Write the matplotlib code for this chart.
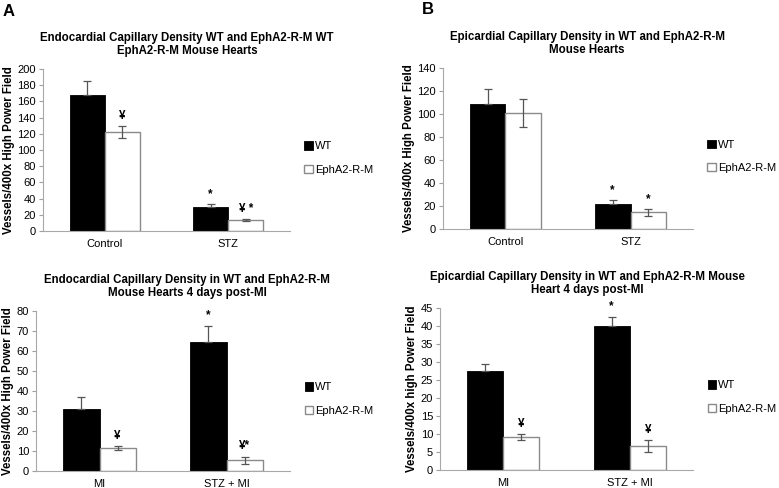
import numpy as np
from matplotlib import pyplot as plt

plt.rcParams['font.family'] = ['Liberation Sans', 'DejaVu Sans']

# data
groups_top = ['Control', 'STZ']
groups_bottom = ['MI', 'STZ + MI']

endo_wt = [168, 29.5]
endo_wt_err = [17, 3.5]
endo_ko = [122, 13.5]
endo_ko_err = [7.5, 1.5]
endo_marks_wt = ['', '*']
endo_marks_ko = ['\u00a5', '\u00a5 *']

epi_wt = [109, 21.5]
epi_wt_err = [12.5, 3.5]
epi_ko = [101, 14.5]
epi_ko_err = [12, 2.8]
epi_marks_wt = ['', '*']
epi_marks_ko = ['', '*']

endo_mi_wt = [31.2, 64.6]
endo_mi_wt_err = [6, 8]
endo_mi_ko = [11.5, 5.4]
endo_mi_ko_err = [0.8, 1.8]
endo_mi_marks_wt = ['', '*']
endo_mi_marks_ko = ['\u00a5', '\u00a5*']

epi_mi_wt = [27.4, 39.9]
epi_mi_wt_err = [2, 2.7]
epi_mi_ko = [9.1, 6.6]
epi_mi_ko_err = [0.8, 1.7]
epi_mi_marks_wt = ['', '*']
epi_mi_marks_ko = ['\u00a5', '\u00a5']

W, H = 779, 488
fig = plt.figure(figsize=(W / 100, H / 100), dpi=100)


def make_axes(x0, x1, ytop, ybot):
    return fig.add_axes([x0 / W, 1 - ybot / H, (x1 - x0) / W, (ybot - ytop) / H])


def panel(ax, cats, wt, wt_err, ko, ko_err, marks_wt, marks_ko, ymax, ystep,
          title, ylabel, title_x):
    x = np.arange(len(cats))
    w = 0.285
    ax.bar(x - w / 2, wt, w, color='black', edgecolor='black', linewidth=0.6,
           label='WT', zorder=2)
    ax.bar(x + w / 2, ko, w, color='white', edgecolor='#8a8a8a', linewidth=1.0,
           label='EphA2-R-M', zorder=2)
    ax.errorbar(x - w / 2, wt, yerr=[np.zeros(len(wt)), wt_err], fmt='none',
                ecolor='#555555', elinewidth=0.9, capsize=3, capthick=0.9, zorder=3)
    ax.errorbar(x + w / 2, ko, yerr=ko_err, fmt='none',
                ecolor='#555555', elinewidth=0.9, capsize=3, capthick=0.9, zorder=3)
    for i in range(len(cats)):
        if marks_wt[i]:
            ax.annotate(marks_wt[i], (x[i] - w / 2, wt[i] + wt_err[i]),
                        xytext=(0, 3), textcoords='offset points',
                        ha='center', va='bottom', fontsize=8.5, fontweight='bold')
        if marks_ko[i]:
            ax.annotate(marks_ko[i], (x[i] + w / 2, ko[i] + ko_err[i]),
                        xytext=(0, 3), textcoords='offset points',
                        ha='center', va='bottom', fontsize=8.5, fontweight='bold')
    ax.set_xlim(-0.5, len(cats) - 0.5)
    ax.set_ylim(0, ymax)
    ax.set_yticks(np.arange(0, ymax + ystep / 2, ystep))
    ax.set_xticks(x)
    ax.set_xticklabels(cats)
    ax.tick_params(axis='x', length=0, labelsize=8, pad=6)
    ax.tick_params(axis='y', length=3, color='#a0a0a0', labelsize=8, pad=2)
    for s in ['top', 'right']:
        ax.spines[s].set_visible(False)
    for s in ['left', 'bottom']:
        ax.spines[s].set_color('#a8a8a8')
        ax.spines[s].set_linewidth(0.8)
    ax.set_title(title, fontsize=8.3, fontweight='bold', pad=11,
                 linespacing=1.1, x=title_x)
    ax.set_ylabel(ylabel, fontsize=8.3, fontweight='bold', labelpad=2)
    ax.legend(loc='center left', bbox_to_anchor=(1.04, 0.45), frameon=False,
              fontsize=8, handlelength=0.75, handleheight=0.75,
              handletextpad=0.2, labelspacing=1.2, borderaxespad=0)


axA = make_axes(43, 290, 69, 231)
panel(axA, groups_top, endo_wt, endo_wt_err, endo_ko, endo_ko_err,
      endo_marks_wt, endo_marks_ko, 200, 20,
      'Endocardial Capillary Density WT and EphA2-R-M WT\nEphA2-R-M Mouse Hearts',
      'Vessels/400x High Power Field', 0.583)

axB = make_axes(443, 693, 68, 229)
panel(axB, groups_top, epi_wt, epi_wt_err, epi_ko, epi_ko_err,
      epi_marks_wt, epi_marks_ko, 140, 20,
      'Epicardial Capillary Density in WT and EphA2-R-M\nMouse Hearts',
      'Vessels/400x High Power Field', 0.576)

axC = make_axes(36, 290, 311, 471)
panel(axC, groups_bottom, endo_mi_wt, endo_mi_wt_err, endo_mi_ko, endo_mi_ko_err,
      endo_mi_marks_wt, endo_mi_marks_ko, 80, 10,
      'Endocardial Capillary Density in WT and EphA2-R-M\nMouse Hearts 4 days post-MI',
      'Vessels/400x High Power Field', 0.594)

axD = make_axes(440, 693, 308, 470)
panel(axD, groups_bottom, epi_mi_wt, epi_mi_wt_err, epi_mi_ko, epi_mi_ko_err,
      epi_mi_marks_wt, epi_mi_marks_ko, 45, 5,
      'Epicardial Capillary Density in WT and EphA2-R-M Mouse\nHeart 4 days post-MI',
      'Vessels/400x high Power Field', 0.581)

fig.text(3 / W, 1 - 11 / H, 'A', fontsize=12, fontweight='bold', va='center')
fig.text(422 / W, 1 - 9 / H, 'B', fontsize=12, fontweight='bold', va='center')

fig.savefig('out.png', dpi=100)
